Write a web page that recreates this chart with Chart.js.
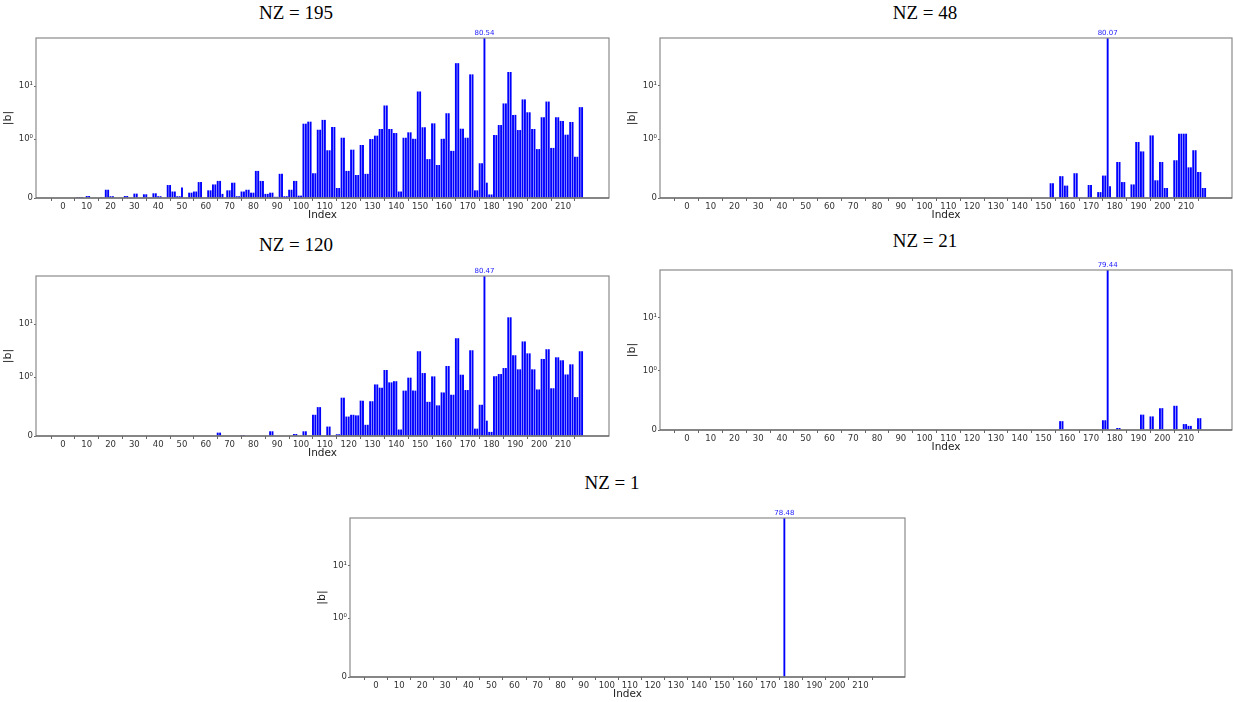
<!DOCTYPE html>
<html>
<head>
<meta charset="utf-8">
<script src="https://cdn.jsdelivr.net/npm/chart.js@4.4.1/dist/chart.umd.min.js"></script>
<style>
  body { margin: 0; background: #fff; width: 1233px; height: 702px; position: relative; overflow: hidden; }
  .title { position: absolute; font-family: "Liberation Serif", serif; font-size: 19px; line-height: 19px; color: #000; transform: translateX(-50%); white-space: nowrap; }
  canvas { position: absolute; }
</style>
</head>
<body>
<script>
// ---- data ----
const N_COEF = 219;
const xTicks = [0, 10, 20, 30, 40, 50, 60, 70, 80, 90, 100, 110, 120, 130, 140, 150, 160, 170, 180, 190, 200, 210];
const yTicks = [0, 1, 10];
const yTickLabels = ['0', '10\u2070', '10\u00b9'];
const titles = ['NZ = 195', 'NZ = 48', 'NZ = 120', 'NZ = 21', 'NZ = 1'];

const valuesNZ195 = [
  0, 0, 0, 0, 0, 0, 0.017, 0.017, 0.017, 0,
  0.034, 0.034, 0, 0, 0, 0, 0.011, 0.011, 0.14, 0.14,
  0.03, 0.03, 0, 0, 0.01, 0.01, 0.034, 0.034, 0, 0,
  0.074, 0.074, 0, 0, 0.063, 0.063, 0, 0, 0.08, 0.08,
  0.03, 0.03, 0, 0, 0.22, 0.22, 0.11, 0.11, 0.03, 0.03,
  0.18, 0, 0, 0.09, 0.09, 0.11, 0.11, 0.27, 0.27, 0,
  0, 0.13, 0.13, 0.23, 0.23, 0.29, 0.29, 0.07, 0, 0.13,
  0.13, 0.26, 0.26, 0.03, 0.03, 0.11, 0.11, 0.14, 0.14, 0.09,
  0.09, 0.46, 0.46, 0.29, 0.29, 0.07, 0.07, 0.09, 0.09, 0.02,
  0.02, 0.41, 0.41, 0.03, 0.03, 0.14, 0.14, 0.29, 0.29, 0.04,
  0.04, 1.95, 1.95, 2.13, 2.13, 0.42, 0.42, 1.50, 1.50, 2.30,
  2.30, 0.81, 0.81, 1.69, 1.69, 0.17, 0.17, 1.06, 1.06, 0.46,
  0.46, 0.82, 0.82, 0.39, 0.39, 0.90, 0.90, 0.41, 0.41, 1.0,
  1.0, 1.16, 1.16, 1.55, 1.55, 4.3, 4.3, 1.55, 1.55, 1.30,
  1.30, 0.11, 0.11, 1.06, 1.06, 1.34, 1.34, 1.01, 1.01, 7.9,
  7.9, 1.67, 1.67, 0.66, 0.66, 1.98, 1.98, 0.56, 0.56, 1.01,
  1.01, 3.07, 3.07, 0.80, 0.80, 27, 27, 1.57, 1.57, 1.06,
  1.06, 16.6, 16.6, 0.13, 0.13, 0.59, 0.59, 80.54, 0.26, 0.06,
  0.06, 1.19, 1.19, 1.84, 1.84, 4.7, 4.7, 18.4, 18.4, 2.86,
  2.86, 1.48, 1.48, 5.6, 5.6, 3.2, 3.2, 1.55, 1.55, 0.83,
  0.83, 2.58, 2.58, 5.1, 5.1, 0.85, 0.85, 2.58, 2.58, 2.2,
  2.2, 1.21, 1.21, 2.1, 2.1, 0.70, 0.70, 4.0, 4.0
];

const valuesNZ120 = [
  0, 0, 0, 0, 0, 0, 0, 0, 0, 0,
  0, 0, 0, 0, 0, 0, 0, 0, 0, 0,
  0, 0, 0, 0, 0, 0, 0, 0, 0, 0,
  0, 0, 0, 0, 0, 0, 0, 0, 0, 0,
  0, 0, 0, 0, 0, 0, 0, 0, 0, 0,
  0, 0, 0, 0, 0, 0, 0, 0, 0, 0,
  0, 0, 0, 0, 0, 0.057, 0.057, 0, 0, 0,
  0, 0, 0, 0, 0, 0.017, 0.017, 0, 0, 0,
  0, 0, 0, 0, 0, 0, 0, 0.08, 0.08, 0,
  0, 0, 0, 0, 0, 0, 0, 0.034, 0.034, 0,
  0, 0.08, 0.08, 0, 0, 0.36, 0.36, 0.49, 0.49, 0,
  0, 0.16, 0.16, 0, 0, 0.03, 0.03, 0.65, 0.65, 0.33,
  0.33, 0.36, 0.36, 0.35, 0.35, 0.60, 0.60, 0.19, 0.19, 0.59,
  0.59, 0.875, 0.875, 0.82, 0.82, 1.36, 1.36, 0.91, 0.91, 0.93,
  0.93, 0.11, 0.11, 0.77, 0.77, 0.99, 0.99, 0.77, 0.77, 3.07,
  3.07, 1.19, 1.19, 0.58, 0.58, 1.03, 1.03, 0.52, 0.52, 0.74,
  0.74, 1.62, 1.62, 0.70, 0.70, 5.4, 5.4, 1.11, 1.11, 0.78,
  0.78, 3.2, 3.2, 0.125, 0.125, 0.53, 0.53, 80.47, 0.26, 0.07,
  0.07, 1.04, 1.04, 1.14, 1.14, 1.48, 1.48, 13.4, 13.4, 2.58,
  2.58, 1.40, 1.40, 4.7, 4.7, 2.8, 2.8, 1.40, 1.40, 0.79,
  0.79, 2.2, 2.2, 3.35, 3.35, 0.81, 0.81, 2.36, 2.36, 2.07,
  2.07, 1.12, 1.12, 1.74, 1.74, 0.66, 0.66, 3.07, 3.07
];

// sparse panels: index of each non-zero coefficient and its value
const indexNZ48 = [153, 154, 157, 158, 159, 160, 163, 164, 169, 170, 173, 174, 175, 176, 177, 178,
  181, 182, 183, 184, 187, 188, 189, 190, 191, 192, 195, 196, 197, 198, 199, 200, 201, 202,
  205, 206, 207, 208, 209, 210, 211, 212, 213, 214, 215, 216, 217, 218];
const valuesNZ48 = [0.25, 0.25, 0.37, 0.37, 0.21, 0.21, 0.42, 0.42, 0.22, 0.22, 0.10, 0.10, 0.38, 0.38, 80.07, 0.20,
  0.61, 0.61, 0.27, 0.27, 0.23, 0.23, 0.95, 0.95, 0.79, 0.79, 1.17, 1.17, 0.30, 0.30, 0.61, 0.61, 0.17, 0.17,
  0.64, 0.64, 1.26, 1.26, 1.26, 1.26, 0.52, 0.52, 0.81, 0.81, 0.44, 0.44, 0.17, 0.17];

const indexNZ21 = [157, 158, 175, 176, 177, 181, 182, 191, 192, 195, 196, 199, 200, 205, 206, 209, 210, 211, 212, 215, 216];
const valuesNZ21 = [0.15, 0.15, 0.165, 0.165, 79.44, 0.034, 0.034, 0.26, 0.26, 0.23, 0.23, 0.37, 0.37, 0.41, 0.41, 0.10, 0.10, 0.07, 0.07, 0.20, 0.20];

const indexNZ1 = [177];
const valuesNZ1 = [78.48];

function fromSparse(idx, vals) {
    const out = new Array(N_COEF).fill(0);
    idx.forEach((k, j) => { out[k] = vals[j]; });
    return out;
}

const series = [valuesNZ195, fromSparse(indexNZ48, valuesNZ48), valuesNZ120, fromSparse(indexNZ21, valuesNZ21), fromSparse(indexNZ1, valuesNZ1)];

// frame box [left, top, right, bottom] and title centre for each panel
const layout = [
    {frame: [36, 38, 609, 198], titleAt: [296, 12]},
    {frame: [660, 38, 1232, 198], titleAt: [925, 12]},
    {frame: [36, 276, 609, 436], titleAt: [296, 244]},
    {frame: [660, 270, 1232, 430], titleAt: [925, 240]},
    {frame: [350, 518, 905, 677], titleAt: [612, 482]},
];

// ---- symlog scale (matplotlib style, linthresh 1, linscale 1) ----
const LINSCALE = 1 / (1 - 1 / 10);
function symT(v) {
    const a = Math.abs(v);
    return a <= 1 ? v * LINSCALE : Math.sign(v) * (LINSCALE + Math.log10(a));
}
function symInv(t) {
    const a = Math.abs(t);
    return a <= LINSCALE ? t / LINSCALE : Math.sign(t) * Math.pow(10, a - LINSCALE);
}

class SymlogScale extends Chart.LinearScale {
    buildTicks() {
        super.buildTicks();
        return yTicks.filter(v => v >= this.min && v <= this.max).map(v => ({value: v}));
    }
    configure() {
        super.configure();
        this._tStart = symT(this.min);
        this._tRange = symT(this.max) - this._tStart;
    }
    getPixelForValue(value) {
        if (value === null || value === undefined || isNaN(value)) return NaN;
        return this.getPixelForDecimal((symT(value) - this._tStart) / this._tRange);
    }
    getValueForPixel(pixel) {
        return symInv(this._tStart + this.getDecimalForPixel(pixel) * this._tRange);
    }
}
SymlogScale.id = 'symlog';
SymlogScale.defaults = {};
Chart.register(SymlogScale);

const framePlugin = {
    id: 'frame',
    afterDraw(chart) {
        const {ctx, chartArea: a} = chart;
        ctx.save();
        ctx.strokeStyle = '#8a8a8a';
        ctx.lineWidth = 1.2;
        ctx.strokeRect(a.left, a.top, a.right - a.left, a.bottom - a.top);
        // x spine a bit darker, as in the original
        ctx.strokeStyle = '#555';
        ctx.beginPath();
        ctx.moveTo(a.left, a.bottom);
        ctx.lineTo(a.right, a.bottom);
        ctx.stroke();
        // label of the largest coefficient
        const pts = chart.data.datasets[0].data;
        let best = pts[0];
        for (const p of pts) if (p.y > best.y) best = p;
        const x = chart.scales.x.getPixelForValue(best.x);
        ctx.fillStyle = '#2222ff';
        ctx.font = '7px "DejaVu Sans"';
        ctx.textAlign = 'center';
        ctx.textBaseline = 'bottom';
        ctx.fillText(best.y.toFixed(2), x, a.top - 1);
        ctx.restore();
    }
};

const Y_AXIS_W = 36, X_AXIS_H = 27, PAD_TOP = 12, PAD_RIGHT = 4;

series.forEach((vals, p) => {
    const [L, T, R, B] = layout[p].frame;

    const t = document.createElement('div');
    t.className = 'title';
    t.textContent = titles[p];
    t.style.left = layout[p].titleAt[0] + 'px';
    t.style.top = (layout[p].titleAt[1] - 9.5) + 'px';
    document.body.appendChild(t);

    const cv = document.createElement('canvas');
    const w = (R - L) + Y_AXIS_W + PAD_RIGHT;
    const h = (B - T) + PAD_TOP + X_AXIS_H;
    cv.width = w; cv.height = h;
    cv.style.width = w + 'px'; cv.style.height = h + 'px';
    cv.style.left = (L - Y_AXIS_W) + 'px';
    cv.style.top = (T - PAD_TOP) + 'px';
    document.body.appendChild(cv);

    const maxVal = Math.max(...vals);
    const points = vals.map((v, i) => ({x: i, y: v}));

    new Chart(cv, {
        type: 'bar',
        data: {
            datasets: [{
                data: points,
                backgroundColor: '#0000ff',
                borderWidth: 0,
                barPercentage: 0.8,
                categoryPercentage: 1.0,
            }]
        },
        options: {
            responsive: false,
            animation: false,
            devicePixelRatio: 1,
            layout: {padding: {top: PAD_TOP, right: PAD_RIGHT, left: 0, bottom: 0}},
            plugins: {
                legend: {display: false},
                tooltip: {enabled: false},
            },
            scales: {
                x: {
                    type: 'linear',
                    min: -11.3,
                    max: 229.3,
                    offset: false,
                    afterBuildTicks: (s) => { s.ticks = xTicks.map(v => ({value: v})); },
                    afterFit: (s) => { s.height = X_AXIS_H; },
                    grid: {display: true, drawOnChartArea: false, drawTicks: true, tickLength: 3, color: '#666'},
                    border: {display: false},
                    ticks: {
                        autoSkip: false,
                        maxRotation: 0,
                        padding: 1,
                        color: '#333',
                        font: {family: 'DejaVu Sans', size: 8.5},
                        callback: (v) => String(v),
                    },
                    title: {
                        display: true,
                        text: 'Index',
                        color: '#222',
                        font: {family: 'DejaVu Sans', size: 10.5},
                        padding: {top: 0, bottom: 3},
                    }
                },
                y: {
                    type: 'symlog',
                    min: 0,
                    max: maxVal,
                    afterFit: (s) => { s.width = Y_AXIS_W; },
                    grid: {display: true, drawOnChartArea: false, drawTicks: true, tickLength: 2, color: '#666'},
                    border: {display: false},
                    ticks: {
                        padding: 1,
                        color: '#333',
                        font: {family: 'DejaVu Sans', size: 8.5},
                        callback: (v) => yTickLabels[yTicks.indexOf(v)],
                    },
                    title: {
                        display: true,
                        text: '|b|',
                        color: '#222',
                        font: {family: 'DejaVu Sans', size: 11},
                        padding: {top: 2, bottom: 0},
                    }
                }
            }
        },
        plugins: [framePlugin]
    });
});
</script>
</body>
</html>
